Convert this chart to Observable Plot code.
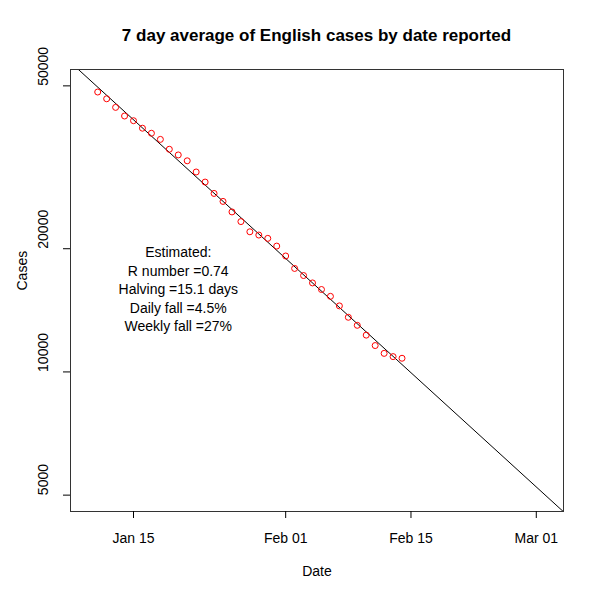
<!DOCTYPE html>
<html>
<head>
<meta charset="utf-8">
<script src="https://cdn.jsdelivr.net/npm/d3@7"></script>
<script src="https://cdn.jsdelivr.net/npm/@observablehq/plot@0.6"></script>
<style>
  body { margin: 0; background: white; font-family: "Liberation Sans", Arial, sans-serif; }
  #title { height: 50px; box-sizing: border-box; padding-top: 26px; padding-left: 70px; width: 563px;
           text-align: center; font-weight: bold; font-size: 17px; line-height: 20px; color: #000; }
  #chart svg { overflow: visible; display: block; }
</style>
</head>
<body>
<div id="title">7 day average of English cases by date reported</div>
<div id="chart"></div>
<script>
// Observed 7-day averages (by date reported)
const dates = [
  "2021-01-11","2021-01-12","2021-01-13","2021-01-14","2021-01-15","2021-01-16","2021-01-17",
  "2021-01-18","2021-01-19","2021-01-20","2021-01-21","2021-01-22","2021-01-23","2021-01-24",
  "2021-01-25","2021-01-26","2021-01-27","2021-01-28","2021-01-29","2021-01-30","2021-01-31",
  "2021-02-01","2021-02-02","2021-02-03","2021-02-04","2021-02-05","2021-02-06","2021-02-07",
  "2021-02-08","2021-02-09","2021-02-10","2021-02-11","2021-02-12","2021-02-13","2021-02-14"
];
const cases = [
  48300, 46500, 44300, 42200, 41100, 39400, 38300,
  37000, 35000, 33900, 32800, 30800, 29100, 27300,
  26100, 24600, 23300, 22000, 21600, 21200, 20300,
  19200, 17900, 17200, 16500, 15900, 15300, 14500,
  13600, 13000, 12300, 11600, 11100, 10900, 10800
];

// Fitted exponential trend line (end points)
const lineDates = ["2021-01-06", "2021-03-06"];
const lineValues = [62460, 4162];

// Axis limits and ticks
const xLimits = ["2021-01-10", "2021-03-02"];
const yLimits = [5000, 50000];
const xTicks = ["2021-01-15", "2021-02-01", "2021-02-15", "2021-03-01"];
const xTickLabels = ["Jan 15", "Feb 01", "Feb 15", "Mar 01"];
const yTicks = [5000, 10000, 20000, 50000];
const yTickLabels = ["5000", "10000", "20000", "50000"];

// Annotation
const annotationLines = ["Estimated:", "R number =0.74", "Halving =15.1 days", "Daily fall =4.5%", "Weekly fall =27%"];
const annotationDate = "2021-01-20";
const annotationValue = 16000;

const parse = d3.utcParse("%Y-%m-%d");
const points = dates.map((d, i) => ({date: parse(d), cases: cases[i]}));
const trend = lineDates.map((d, i) => ({date: parse(d), cases: lineValues[i]}));

// R-style 4% axis extension
const x0 = +parse(xLimits[0]), x1 = +parse(xLimits[1]);
const xe = (x1 - x0) * 0.04;
const xDomain = [new Date(x0 - xe), new Date(x1 + xe)];
const l0 = Math.log10(yLimits[0]), l1 = Math.log10(yLimits[1]);
const le = (l1 - l0) * 0.04;
const yDomain = [Math.pow(10, l0 - le), Math.pow(10, l1 + le)];

const tickDates = xTicks.map(parse);
const labelFor = new Map(tickDates.map((d, i) => [+d, xTickLabels[i]]));

const chart = Plot.plot({
  width: 600,
  height: 549,
  marginTop: 19,
  marginBottom: 88,
  marginLeft: 70,
  marginRight: 37,
  style: {fontFamily: "'Liberation Sans', Arial, sans-serif", fontSize: "14px", background: "white", color: "black", overflow: "visible"},
  x: {type: "utc", domain: xDomain},
  y: {type: "log", domain: yDomain},
  marks: [
    Plot.line(trend, {x: "date", y: "cases", stroke: "black", strokeWidth: 1, clip: true}),
    Plot.dot(points, {x: "date", y: "cases", r: 3, stroke: "red", fill: "none", strokeWidth: 1}),
    Plot.frame({stroke: "#333", strokeWidth: 1}),
    Plot.axisX({ticks: tickDates, tickFormat: d => labelFor.get(+d), tickSize: 7, tickPadding: 15, label: null, fontSize: 14}),
    Plot.axisY({ticks: yTicks, tickFormat: () => "", tickSize: 7, label: null}),
    Plot.text(yTicks, {y: d => d, text: (d, i) => yTickLabels[i], frameAnchor: "left", dx: -27, rotate: -90, fontSize: 14}),
    Plot.text(["Cases"], {frameAnchor: "left", dx: -48, rotate: -90, fontSize: 14}),
    Plot.text(["Date"], {frameAnchor: "bottom", dy: 64, fontSize: 14}),
    Plot.text([annotationLines.join("\n")], {x: () => parse(annotationDate), y: () => annotationValue, lineHeight: 1.32, fontSize: 14})
  ]
});
document.getElementById("chart").appendChild(chart);
</script>
</body>
</html>
